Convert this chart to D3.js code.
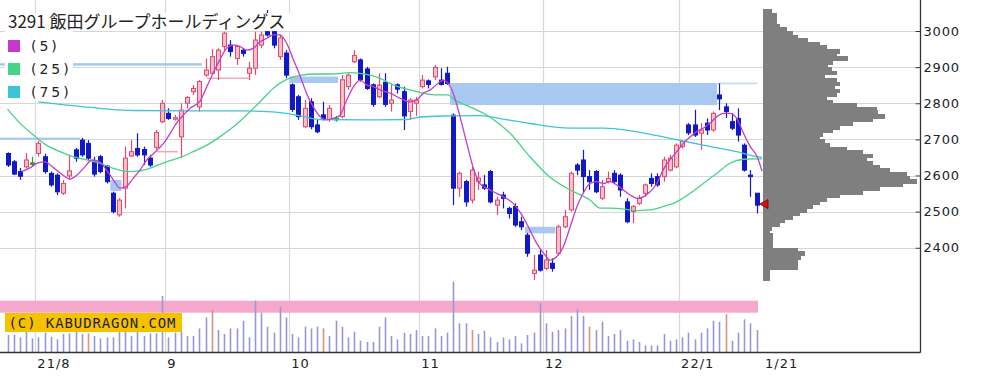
<!DOCTYPE html>
<html><head><meta charset="utf-8">
<script src="https://cdn.jsdelivr.net/npm/d3@7/dist/d3.min.js"></script>
<style>body{margin:0;background:#fff}svg{display:block}</style>
</head><body>
<svg id="c" width="987" height="377"></svg>
<script>
// ---------- data ----------
const title = "3291 飯田グループホールディングス";
const dates = ["7/26","7/27","7/28","7/29","7/30",
"8/2","8/3","8/4","8/5","8/6","8/10","8/11","8/12","8/13","8/16","8/17","8/18","8/19","8/20","8/23","8/24","8/25","8/26","8/27","8/30","8/31",
"9/1","9/2","9/3","9/6","9/7","9/8","9/9","9/10","9/13","9/14","9/15","9/16","9/17","9/21","9/22","9/24","9/27","9/28","9/29","9/30",
"10/1","10/4","10/5","10/6","10/7","10/8","10/11","10/12","10/13","10/14","10/15","10/18","10/19","10/20","10/21","10/22","10/25","10/26","10/27","10/28","10/29",
"11/1","11/2","11/4","11/5","11/8","11/9","11/10","11/11","11/12","11/15","11/16","11/17","11/18","11/19","11/22","11/24","11/25","11/26","11/29","11/30",
"12/1","12/2","12/3","12/6","12/7","12/8","12/9","12/10","12/13","12/14","12/15","12/16","12/17","12/20","12/21","12/22","12/23","12/24","12/27","12/28","12/29","12/30",
"1/4","1/5","1/6","1/7","1/11","1/12","1/13","1/14","1/17","1/18","1/19","1/20","1/21"];
const monthLabels = ["21/8","9","10","11","12","22/1"];

const open = [2661,2638,2611,2624,2635,2661,2652,2606,2601,2551,
2599,2671,2698,2689,2638,2652,2626,2551,2491,2565,
2654,2675,2672,2648,2678,2749,2772,2756,2707,2800,
2832,2790,2878,2883,2892,2957,2961,2924,2947,2883,
2897,2961,2998,2998,2929,2939,2851,2818,2735,2804,
2740,2768,2755,2758,2763,2846,2915,2920,2895,2851,
2818,2858,2800,2851,2832,2777,2800,2846,2862,2873,
2864,2883,2767,2565,2583,2532,2583,2574,2611,2518,
2546,2509,2514,2472,2435,2329,2380,2343,2357,2385,
2458,2505,2629,2643,2597,2611,2537,2583,2606,2601,
2527,2500,2523,2551,2592,2597,2597,2615,2624,2680,
2740,2740,2717,2745,2726,2823,2790,2749,2758,2684,
2601,2551];
const high = [2664,2643,2621,2662,2652,2696,2660,2611,2606,2588,
2657,2676,2704,2698,2652,2657,2629,2555,2537,2680,
2698,2717,2680,2657,2726,2809,2786,2768,2800,2820,
2851,2864,2924,2950,2952,2998,2975,2961,2952,2915,
2998,2998,3058,3003,2990,2947,2855,2823,2809,2814,
2754,2804,2795,2765,2878,2883,2947,2924,2901,2855,
2883,2883,2851,2855,2846,2814,2818,2878,2866,2906,
2897,2901,2772,2611,2588,2624,2611,2601,2615,2541,
2555,2514,2523,2486,2441,2380,2394,2394,2371,2463,
2505,2611,2634,2671,2615,2615,2588,2611,2615,2606,
2537,2518,2546,2578,2606,2606,2652,2657,2689,2698,
2745,2782,2745,2758,2777,2855,2800,2772,2786,2689,
2615,2551];
const low = [2624,2601,2588,2620,2624,2652,2605,2569,2546,2546,
2588,2638,2652,2643,2597,2606,2578,2495,2486,2509,
2652,2652,2629,2624,2671,2745,2754,2752,2648,2786,
2823,2777,2873,2878,2864,2947,2929,2906,2929,2864,
2878,2952,2985,2952,2920,2870,2776,2754,2732,2728,
2717,2752,2749,2749,2758,2837,2911,2860,2837,2790,
2814,2790,2777,2827,2726,2754,2765,2841,2841,2864,
2849,2851,2518,2541,2514,2523,2560,2560,2523,2491,
2509,2481,2458,2449,2375,2311,2334,2338,2334,2380,
2454,2500,2601,2551,2560,2551,2532,2578,2578,2541,
2468,2468,2518,2541,2569,2569,2583,2611,2620,2675,
2712,2707,2671,2712,2721,2781,2759,2726,2694,2611,
2541,2495];
const close = [2629,2604,2598,2643,2635,2689,2611,2574,2555,2578,
2613,2648,2657,2648,2604,2611,2583,2500,2532,2648,
2666,2657,2657,2629,2719,2800,2758,2760,2781,2816,
2841,2860,2892,2929,2947,2994,2943,2957,2938,2897,
2975,2989,2989,2961,2981,2878,2783,2763,2786,2735,
2721,2756,2786,2758,2865,2878,2932,2866,2841,2797,
2850,2797,2809,2839,2765,2809,2809,2864,2852,2899,
2852,2855,2565,2606,2527,2615,2593,2565,2527,2532,
2537,2495,2463,2458,2385,2338,2338,2366,2343,2458,
2486,2606,2615,2597,2583,2555,2569,2592,2583,2560,
2472,2514,2537,2574,2578,2574,2643,2648,2684,2694,
2718,2712,2726,2726,2772,2812,2777,2731,2712,2615,
2597,2518];
const volume = [177,177,153,210,143,153,200,160,133,187,
193,210,187,193,167,143,153,153,210,210,
167,210,167,193,193,567,153,200,210,167,
167,243,353,427,227,187,243,243,320,153,
520,400,260,200,460,353,187,153,260,243,
260,243,167,320,260,153,210,120,107,107,
260,353,167,133,200,187,227,167,167,243,
167,200,710,293,293,227,187,220,153,107,
153,133,167,93,177,200,493,293,210,227,
243,367,433,367,260,227,310,167,187,227,
120,133,107,73,73,73,187,120,133,153,
200,133,200,243,320,310,387,120,200,333,
293,227];
const volMarked = [13,33,51,75,94,116];

// moving averages: [position index, price]
const ma5 = [[2.3,2611],[3.9,2624],[4.9,2635],[6.1,2638],[6.9,2629],[8.2,2611],[9.3,2597],[10.1,2590],[11.2,2601],[12.5,2624],
[13.6,2643],[14.9,2638],[16,2615],[17.1,2588],[18.2,2565],[19.3,2571],[20.3,2592],[21.4,2615],[22.5,2643],[23.6,2661],
[25.2,2689],[26.3,2717],[27.3,2745],[28.4,2767],[29.5,2786],[31.1,2806],[32.2,2846],[33.2,2883],[34.3,2920],[35.4,2952],
[36.5,2961],[37.6,2957],[38.6,2947],[39.7,2952],[40.8,2970],[41.9,2980],[42.9,2989],[44,2989],[45.1,2966],[46.2,2920],
[47.3,2874],[48.3,2828],[49.4,2790],[50.5,2763],[51.6,2754],[52.6,2758],[53.7,2767],[54.8,2809],[55.9,2846],[57,2864],
[58,2851],[59.1,2846],[60.2,2837],[61.8,2828],[63.4,2814],[65,2804],[66.1,2809],[67.2,2828],[68.3,2837],[69.3,2851],
[70.4,2864],[71.2,2855],[72,2828],[73.1,2763],[74.2,2689],[75.2,2624],[76.3,2578],[77.4,2565],[78.5,2555],[80.1,2541],
[81.7,2523],[83.1,2491],[84.4,2449],[85.5,2412],[86.6,2385],[87.7,2366],[88.7,2375],[89.8,2403],[90.9,2458],[92,2514],
[93,2551],[94.1,2578],[95.2,2583],[96.3,2578],[97.3,2583],[98.4,2574],[99.5,2560],[100.6,2546],[101.7,2537],[102.7,2541],
[103.8,2555],[104.9,2578],[105.9,2615],[107,2643],[108.1,2666],[109.2,2689],[110.3,2707],[111.3,2721],[112.4,2731],[113.5,2745],
[114.6,2763],[115.6,2772],[116.7,2772],[117.8,2758],[118.9,2717],[120,2680],[121.1,2652],[121.9,2612]];
const ma25 = [[0,2784],[2,2745],[4.2,2712],[6.3,2684],[8.5,2666],[10.6,2652],[12.8,2643],[14.9,2634],[17.1,2620],[19.3,2611],
[21.4,2613],[23.6,2624],[25.7,2638],[27.9,2650],[30,2666],[32.2,2684],[34.3,2707],[36.5,2735],[38.6,2767],[40.8,2804],
[42.9,2841],[45.1,2866],[47.3,2877],[50,2881],[52.6,2881],[55.3,2885],[58,2880],[60.2,2869],[62.3,2851],[65,2837],
[67.2,2828],[69.3,2823],[71,2823],[72.6,2806],[74.7,2790],[77.9,2762],[81.2,2717],[84.4,2652],[87.6,2596],[90.9,2560],
[94.1,2532],[95.7,2510],[98.4,2509],[101.6,2503],[103.8,2505],[105.9,2514],[108.1,2527],[110.3,2551],[112.4,2578],[114.6,2606],
[116.7,2634],[118.9,2645],[121.1,2646],[121.9,2646]];
const ma75 = [[5,2804],[9.6,2795],[14.9,2786],[20.3,2780],[29,2779],[37.6,2779],[41.9,2777],[45.1,2772],[47.3,2765],[50.5,2755],
[58,2754],[64.5,2755],[66.6,2762],[71.5,2765],[76.3,2766],[80.1,2756],[84.4,2744],[90.9,2731],[96.3,2731],[101.7,2721],
[107,2703],[112.4,2684],[117.8,2666],[121.1,2652],[121.9,2650]];
const maNames = ["(5)","(25)","(75)"];

// price gaps (open windows) and filled gaps
const gapFrom = [-1.3,-1.3,45.6,71.5,114.6,83.6,16.6];
const gapTo   = [31.4,11.7,53.4,114.6,121.2,88.5,18.4];
const gapLow  = [2904,2699,2856,2795,2854,2440,2557];
const gapHigh = [2911,2705,2874,2856,2857,2458,2588];
const fillFrom = [23.8,32.2];
const fillTo   = [27.5,38.9];
const fillPrice = [2666,2869];

// price-by-volume profile
const profPrice = [3050,3040,3030,3020,3010,3000,2990,2980,2970,2960,2950,2940,2930,2920,2910,2900,2890,2880,2870,2860,
2850,2840,2830,2820,2810,2800,2790,2780,2770,2760,2750,2740,2730,2720,2710,2700,2690,2680,2670,2660,
2650,2640,2630,2620,2610,2600,2590,2580,2570,2560,2550,2540,2530,2520,2510,2500,2490,2480,2470,2460,
2450,2440,2430,2420,2410,2400,2390,2380,2370,2360,2350,2340,2330,2320,2310];
const profVol = [83,133,133,133,167,233,300,350,450,567,633,767,733,850,700,650,683,733,617,733,
767,717,767,733,633,700,933,1133,1150,1217,1100,900,767,700,600,567,617,667,833,1000,
1100,1033,1100,1167,1267,1433,1467,1533,1400,1167,1000,767,633,567,500,433,367,300,217,167,
83,67,100,100,100,100,350,417,380,350,350,350,67,67,67];
const lastPrice = 2521;
const yTicks = [2400,2500,2600,2700,2800,2900,3000];

// ---------- drawing ----------
const svg = d3.select("#c");
const x = d3.scaleLinear().domain([0,121]).range([7.5,756.5]);
const y = d3.scaleLinear().domain([2300,3000]).range([283.9,31]);
const yv = d3.scaleLinear().domain([0,710]).range([352.7,281.7]);
const xp = d3.scaleLinear().domain([0,1533]).range([763.3,916.6]);
const R = v => Math.round(v);

// month boundaries
const monthStarts = [];
dates.forEach((d,i)=>{ if(i>0 && d.split("/")[0]!==dates[i-1].split("/")[0]) monthStarts.push(i); });
const grid = svg.append("g");
grid.selectAll("line.h").data(yTicks).join("line")
  .attr("x1",0).attr("x2",915).attr("y1",d=>R(y(d))+0.5).attr("y2",d=>R(y(d))+0.5)
  .attr("stroke","#d6d6d6").attr("stroke-width",1);
grid.selectAll("line.v").data(monthStarts).join("line")
  .attr("x1",d=>R(x(d-0.5))+0.5).attr("x2",d=>R(x(d-0.5))+0.5).attr("y1",0).attr("y2",352)
  .attr("stroke","#d8d8d8").attr("stroke-width",1.2);

// gaps
svg.append("g").selectAll("rect").data(gapFrom).join("rect")
  .attr("x",(d,i)=>Math.max(0,x(d))).attr("width",(d,i)=>x(gapTo[i])-Math.max(0,x(d)))
  .attr("y",(d,i)=>y(gapHigh[i])).attr("height",(d,i)=>Math.max(1.6,y(gapLow[i])-y(gapHigh[i])))
  .attr("fill",(d,i)=>i===4?"#c4d9f4":"#a9c8f1");
svg.append("g").selectAll("line").data(fillFrom).join("line")
  .attr("x1",d=>x(d)).attr("x2",(d,i)=>x(fillTo[i]))
  .attr("y1",(d,i)=>y(fillPrice[i])).attr("y2",(d,i)=>y(fillPrice[i]))
  .attr("stroke","#f0a8b8").attr("stroke-width",1.5);

// volume band & bars
svg.append("rect").attr("x",0).attr("y",300.7).attr("width",758).attr("height",12).attr("fill","#f5a8cb");
svg.append("g").selectAll("line").data(volume).join("line")
  .attr("x1",(d,i)=>R(x(i))+0.5).attr("x2",(d,i)=>R(x(i))+0.5)
  .attr("y1",yv(0)).attr("y2",d=>yv(d))
  .attr("stroke",(d,i)=>volMarked.includes(i)?"#e0907e":"#9797d6").attr("stroke-width",1.6);

// candles
const cColor = i => close[i]>open[i] ? "up" : (close[i]<open[i] ? "dn" : "eq");
const stroke = {up:"#e24a6c", dn:"#1018c8", eq:"#2f9a3a"};
const fill = {up:"#f7bfcd", dn:"#1018c8", eq:"#2f9a3a"};
const cg = svg.append("g");
cg.selectAll("line").data(open).join("line")
  .attr("x1",(d,i)=>R(x(i))+0.5).attr("x2",(d,i)=>R(x(i))+0.5)
  .attr("y1",(d,i)=>y(high[i])).attr("y2",(d,i)=>y(low[i]))
  .attr("stroke",(d,i)=>stroke[cColor(i)]).attr("stroke-width",1.2);
cg.selectAll("rect").data(open).join("rect")
  .attr("x",(d,i)=>R(x(i))-1.5).attr("width",4)
  .attr("y",(d,i)=>y(Math.max(open[i],close[i])))
  .attr("height",(d,i)=>Math.max(1.5,Math.abs(y(open[i])-y(close[i]))))
  .attr("fill",(d,i)=>fill[cColor(i)]).attr("stroke",(d,i)=>stroke[cColor(i)]).attr("stroke-width",1);

// moving averages
const line = d3.line().x(d=>x(d[0])).y(d=>y(d[1])).curve(d3.curveMonotoneX);
const maColors = ["#c33cc9","#45d487","#3cc5d6"];
[ma75,ma25,ma5].forEach((s,k)=>{
  svg.append("path").attr("d",line(s)).attr("fill","none")
    .attr("stroke",maColors[2-k]).attr("stroke-width",1.3);
});

// volume profile
svg.append("g").attr("shape-rendering","crispEdges").selectAll("rect").data(profPrice).join("rect")
  .attr("x",R(xp(0))).attr("width",(d,i)=>R(xp(profVol[i]))-R(xp(0)))
  .attr("y",d=>R(y(d+10))).attr("height",d=>R(y(d))-R(y(d+10))+1)
  .attr("fill","#7f7f7f");

// last price marker
const ty = y(lastPrice);
svg.append("path").attr("d",`M760,${ty} L768,${ty-4.5} L768,${ty+4.5} Z`)
  .attr("fill","#e01010").attr("stroke","#600").attr("stroke-width",0.8);

// frame
svg.append("line").attr("x1",0).attr("x2",920.5).attr("y1",352.5).attr("y2",352.5).attr("stroke","#333").attr("stroke-width",1.3);
svg.append("line").attr("x1",920.5).attr("x2",920.5).attr("y1",0).attr("y2",352.5).attr("stroke","#333").attr("stroke-width",1.3);

// y axis
const ya = svg.append("g").attr("transform","translate(920.5,0)")
  .call(d3.axisRight(y).tickValues(yTicks).tickSize(-5).tickPadding(3).tickFormat(d3.format("d")));
ya.select(".domain").remove();
ya.selectAll("line").attr("stroke","#333");
ya.selectAll("text").attr("font-family","DejaVu Sans").attr("font-size",13).attr("letter-spacing","0.8px").attr("fill","#222");

// x axis
const xa = svg.append("g").attr("transform","translate(0,352.5)")
  .call(d3.axisBottom(x).tickValues(monthStarts.map(d=>d-0.5)).tickSize(0).tickPadding(6)
    .tickFormat((d,i)=>monthLabels[i]));
xa.select(".domain").remove();
xa.selectAll("text").attr("text-anchor","start").attr("dx",1.5)
  .attr("font-family","DejaVu Sans").attr("font-size",13).attr("letter-spacing","1px").attr("fill","#222");
svg.append("text").attr("x",x(121)+8.5).attr("y",352.5+6).attr("dy","0.71em")
  .attr("font-family","DejaVu Sans").attr("font-size",13).attr("letter-spacing","1px").attr("fill","#222")
  .text(dates[dates.length-1]);

// copyright box
svg.append("rect").attr("x",5).attr("y",313).attr("width",177).attr("height",19).attr("fill","#f6c200");
svg.append("text").attr("x",8.5).attr("y",328).attr("font-family","DejaVu Sans Mono").attr("font-size",14)
  .attr("letter-spacing","0.9px").attr("fill","#222").text("(C) KABUDRAGON.COM");

// title & legend (white backing)
svg.append("rect").attr("x",5).attr("y",13).attr("width",285).attr("height",18).attr("fill","#fff");
svg.append("rect").attr("x",5).attr("y",31).attr("width",68).attr("height",70).attr("fill","#fff");
svg.append("text").attr("x",8).attr("y",28).attr("font-family","Noto Sans CJK JP").attr("font-size",17)
  .attr("fill","#222").text(title);
const lg = svg.append("g");
maNames.forEach((n,k)=>{
  const cy = 46 + k*23;
  lg.append("rect").attr("x",8).attr("y",cy-6).attr("width",12).attr("height",12).attr("fill",maColors[k]);
  lg.append("text").attr("x",31).attr("y",cy+5).attr("font-family","DejaVu Sans").attr("font-size",14)
    .attr("letter-spacing","3px").attr("fill","#222").text(n);
});
</script>
</body></html>
